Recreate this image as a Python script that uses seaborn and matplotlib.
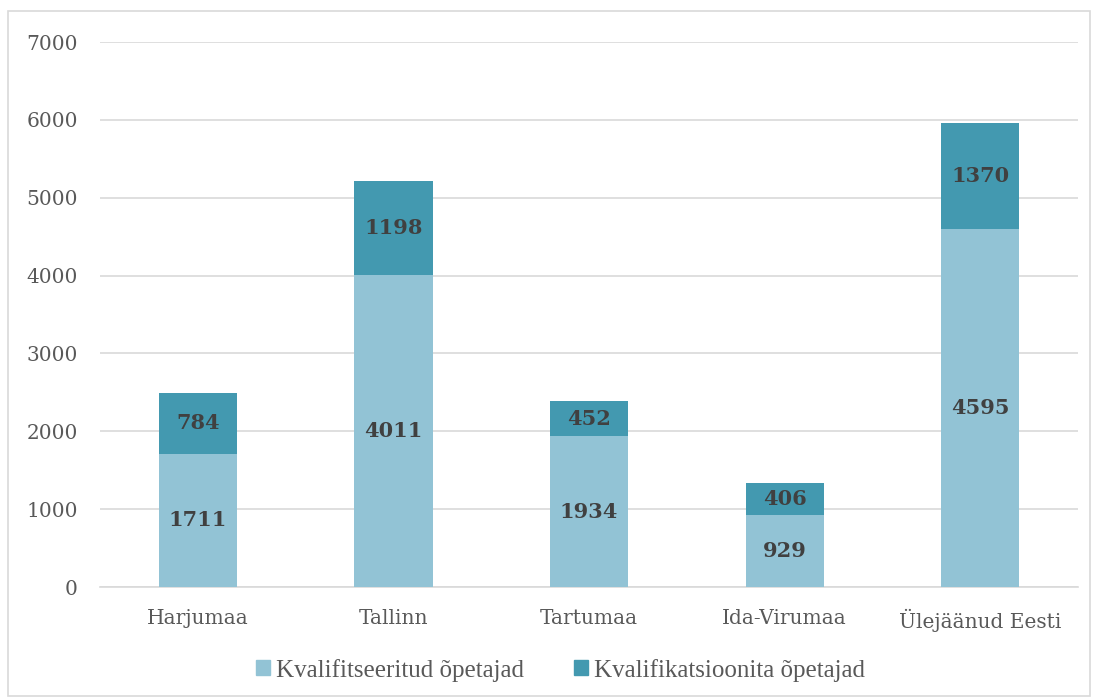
import pandas as pd
import matplotlib.pyplot as plt
import matplotlib.patches as mpatches
import seaborn as sns

# Chart data
regions = ['Harjumaa', 'Tallinn', 'Tartumaa', 'Ida-Virumaa', 'Ülejäänud Eesti']
qualified = [1711, 4011, 1934, 929, 4595]
unqualified = [784, 1198, 452, 406, 1370]
series_names = ['Kvalifitseeritud õpetajad', 'Kvalifikatsioonita õpetajad']

light_col = '#92C3D5'
dark_col = '#4399B0'

df = pd.DataFrame({'Region': regions, 'Qualified': qualified, 'Unqualified': unqualified})
df['Total'] = df['Qualified'] + df['Unqualified']

sns.set_style('white')
plt.rcParams['font.family'] = ['DejaVu Serif']

fig = plt.figure(figsize=(10.93, 6.98), dpi=100)
ax = fig.add_axes([0.0915, 0.159, 0.8948, 0.7808])

# stacked: draw total in dark, then qualified part in light on top
sns.barplot(data=df, x='Region', y='Total', color=dark_col, saturation=1, width=0.4, ax=ax,
            linewidth=0, zorder=2)
sns.barplot(data=df, x='Region', y='Qualified', color=light_col, saturation=1, width=0.4, ax=ax,
            linewidth=0, zorder=3)

for i, row in df.iterrows():
    ax.text(i, row['Qualified'] / 2, str(row['Qualified']), ha='center', va='center',
            fontsize=15, fontweight='bold', color='#404040', zorder=4)
    ax.text(i, row['Qualified'] + row['Unqualified'] / 2, str(row['Unqualified']), ha='center', va='center',
            fontsize=15, fontweight='bold', color='#404040', zorder=4)

ax.set_ylim(0, 7000)
ax.set_xlim(-0.5, len(regions) - 0.5)
ax.set_yticks(range(0, 7001, 1000))
ax.yaxis.grid(True, color='#D9D9D9', linewidth=1.2, zorder=0)
ax.set_axisbelow(True)
ax.set_xlabel('')
ax.set_ylabel('')
for s in ['top', 'right', 'left']:
    ax.spines[s].set_visible(False)
ax.spines['bottom'].set_color('#D9D9D9')
ax.spines['bottom'].set_linewidth(1.2)
ax.tick_params(axis='both', length=0, labelsize=14.5, labelcolor='#595959')
ax.tick_params(axis='x', pad=16)
ax.tick_params(axis='y', pad=16)

handles = [mpatches.Patch(color=light_col, label=series_names[0]),
           mpatches.Patch(color=dark_col, label=series_names[1])]
fig.legend(handles=handles, loc='center', bbox_to_anchor=(0.513, 0.04), ncol=2, frameon=False,
           handlelength=0.55, handleheight=0.55, handletextpad=0.25, columnspacing=2.0,
           prop={'family': 'Liberation Serif', 'size': 18}, labelcolor='#595959')

# outer chart border
fig.patches.append(mpatches.Rectangle((8 / 1093, 2 / 698), 1082 / 1093, 685 / 698, transform=fig.transFigure,
                                      fill=False, edgecolor='#D9D9D9', linewidth=1.2))

fig.savefig('out.png', dpi=100)
